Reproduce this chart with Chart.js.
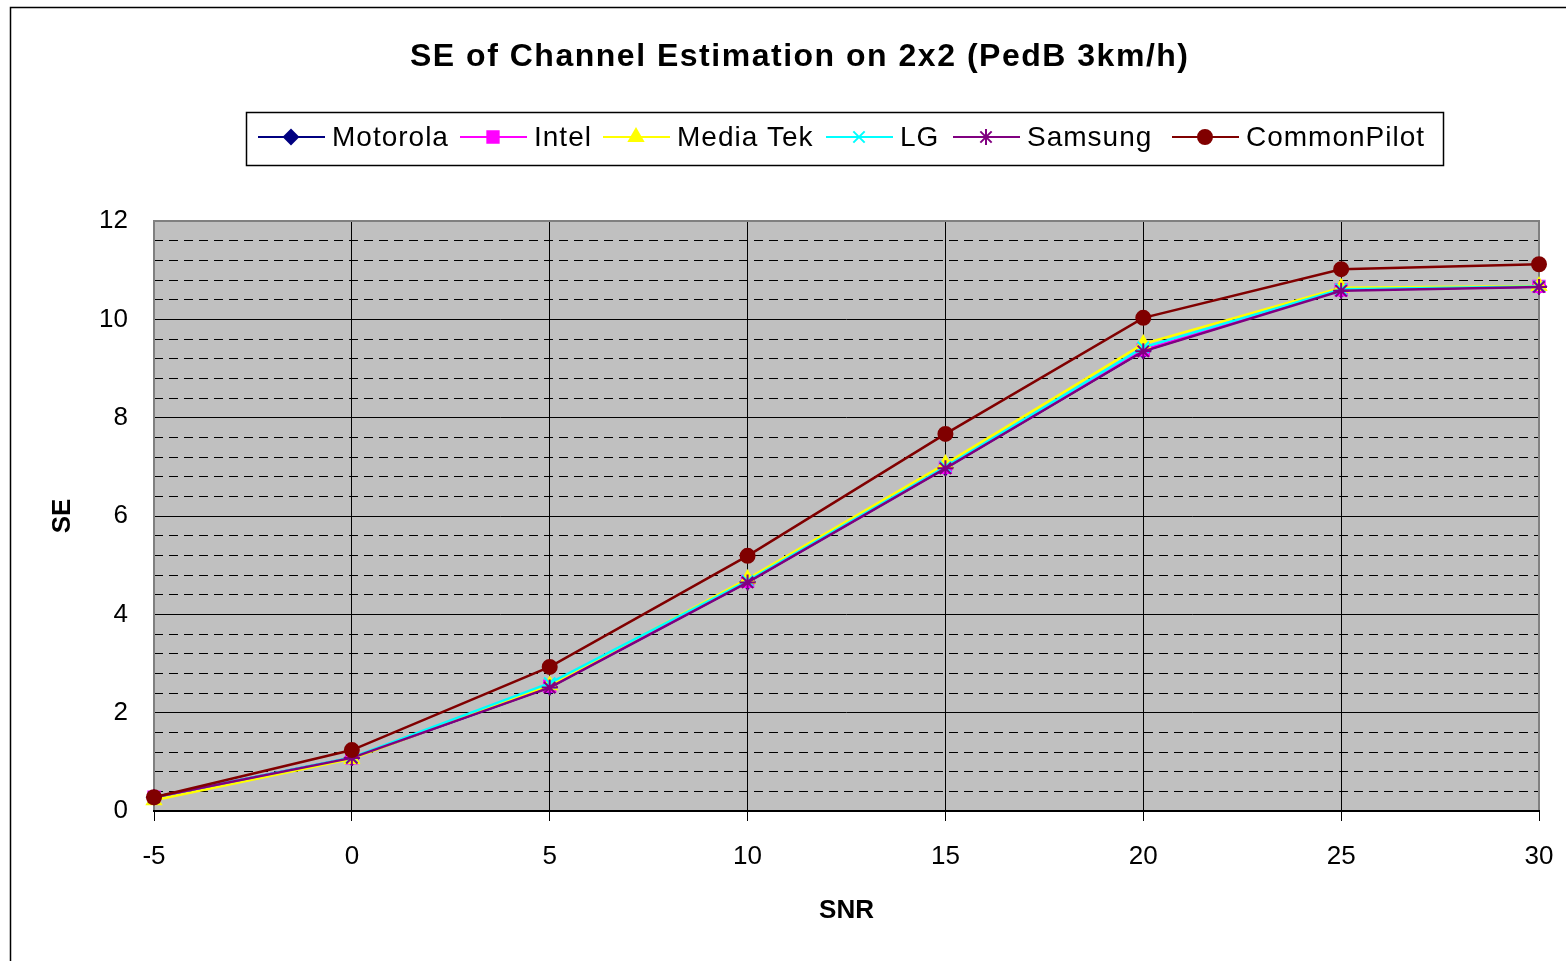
<!DOCTYPE html>
<html>
<head>
<meta charset="utf-8">
<script src="https://cdn.jsdelivr.net/npm/chart.js@4.4.0/dist/chart.umd.min.js"></script>
<style>
  html, body { margin: 0; padding: 0; background: #fff; }
  #wrap { width: 1566px; height: 961px; }
</style>
</head>
<body>
<div id="wrap"><canvas id="myChart" width="1566" height="961"></canvas></div>
<script>
// SNR points and SE values
var snr = [-5, 0, 5, 10, 15, 20, 25, 30];

var motorola    = [0.28, 1.08, 2.52, 4.66, 6.98, 9.36, 10.60, 10.67];
var intel       = [0.28, 1.08, 2.54, 4.67, 6.99, 9.38, 10.60, 10.67];
var mediaTek    = [0.22, 1.06, 2.56, 4.72, 7.06, 9.50, 10.64, 10.68];
var lg          = [0.28, 1.09, 2.60, 4.68, 7.00, 9.43, 10.61, 10.67];
var samsung     = [0.28, 1.08, 2.51, 4.65, 6.97, 9.35, 10.58, 10.66];
var commonPilot = [0.28, 1.24, 2.93, 5.19, 7.67, 10.03, 11.02, 11.12];

var yTicks = [0, 2, 4, 6, 8, 10, 12];
var titleText = 'SE of Channel Estimation on 2x2 (PedB 3km/h)';

function pts(arr) {
  return arr.map(function (v, i) { return { x: snr[i], y: v }; });
}

var series = [
  { label: 'Motorola',    data: motorola,    color: '#000080', style: 'rectRot',  radius: 7, order: 5 },
  { label: 'Intel',       data: intel,       color: '#FF00FF', style: 'rect',     radius: 8, order: 4 },
  { label: 'Media Tek',   data: mediaTek,    color: '#FFFF00', style: 'triangle', radius: 8, order: 3 },
  { label: 'LG',          data: lg,          color: '#00FFFF', style: 'crossRot', radius: 8, order: 2 },
  { label: 'Samsung',     data: samsung,     color: '#800080', style: 'star',     radius: 8, order: 1 },
  { label: 'CommonPilot', data: commonPilot, color: '#800000', style: 'circle',   radius: 7, order: 0 }
];

var datasets = series.map(function (s) {
  return {
    label: s.label,
    data: pts(s.data),
    borderColor: s.color,
    backgroundColor: s.color,
    pointBackgroundColor: s.color,
    pointBorderColor: s.color,
    pointStyle: s.style,
    pointRadius: s.radius,
    pointBorderWidth: 2,
    borderWidth: 2.5,
    tension: 0,
    fill: false,
    clip: false,
    order: s.order
  };
});

var FONT = '"Liberation Sans", Arial, sans-serif';

// page frame, plot background + border, title
var framePlugin = {
  id: 'frame',
  beforeDraw: function (chart) {
    var c = chart.ctx, a = chart.chartArea;
    c.save();
    c.fillStyle = '#fff';
    c.fillRect(0, 0, chart.width, chart.height);
    c.strokeStyle = '#000';
    c.lineWidth = 1.5;
    c.strokeRect(10.5, 7.5, 1700, 1100);
    c.fillStyle = '#C0C0C0';
    c.fillRect(a.left, a.top, a.right - a.left, a.bottom - a.top);

    // title, stretched a little like the excel one
    c.font = 'bold 32px ' + FONT;
    c.fillStyle = '#000';
    c.textBaseline = 'middle';
    c.textAlign = 'left';
    var w = c.measureText(titleText).width;
    var sp = Math.max(0, (778 - w) / (titleText.length - 1));
    c.letterSpacing = sp + 'px';
    c.fillText(titleText, 410, 57);
    c.letterSpacing = '0px';
    c.restore();
  },
  beforeDatasetsDraw: function (chart) {
    var c = chart.ctx, a = chart.chartArea;
    c.save();
    c.strokeStyle = '#808080';
    c.lineWidth = 2;
    c.beginPath();
    c.moveTo(a.left, a.bottom);
    c.lineTo(a.left, a.top);
    c.lineTo(a.right, a.top);
    c.lineTo(a.right, a.bottom);
    c.stroke();
    c.strokeStyle = '#000';
    c.beginPath();
    c.moveTo(a.left - 1, a.bottom);
    c.lineTo(a.right + 1, a.bottom);
    c.stroke();
    c.restore();
  }
};

// excel style legend: line + marker + text in a box
var legendPlugin = {
  id: 'boxLegend',
  afterDraw: function (chart) {
    var c = chart.ctx;
    var y = 137;
    var xs = [258, 460, 603, 826, 953, 1172];
    c.save();
    c.fillStyle = '#fff';
    c.fillRect(246, 112, 1197, 53);
    c.strokeStyle = '#000';
    c.lineWidth = 1.5;
    c.strokeRect(246.5, 112.5, 1197, 53);
    c.font = '28px ' + FONT;
    c.textBaseline = 'middle';
    series.forEach(function (s, i) {
      var x0 = xs[i];
      c.strokeStyle = s.color;
      c.fillStyle = s.color;
      c.lineWidth = 2;
      c.beginPath();
      c.moveTo(x0, y);
      c.lineTo(x0 + 67, y);
      c.stroke();
      Chart.helpers.drawPoint(c, { pointStyle: s.style, radius: s.radius, rotation: 0, borderWidth: 2 }, x0 + 33, y);
      c.fillStyle = '#000';
      c.letterSpacing = '1px';
      c.fillText(s.label, x0 + 74, y + 1);
      c.letterSpacing = '0px';
    });
    c.restore();
  }
};

var ctx = document.getElementById('myChart').getContext('2d');
var myChart = new Chart(ctx, {
  type: 'line',
  data: { datasets: datasets },
  plugins: [framePlugin, legendPlugin],
  options: {
    responsive: false,
    animation: false,
    layout: { padding: { left: 0, top: 221, right: 27, bottom: 0 } },
    plugins: {
      legend: { display: false },
      tooltip: { enabled: false },
      title: { display: false }
    },
    scales: {
      x: {
        type: 'linear',
        min: -5,
        max: 30,
        ticks: {
          stepSize: 5,
          color: '#000',
          padding: 20,
          font: { family: FONT, size: 26 }
        },
        grid: { color: '#000', lineWidth: 1, tickLength: 10, tickColor: '#000' },
        border: { display: false },
        title: {
          display: true,
          text: 'SNR',
          color: '#000',
          font: { family: FONT, size: 26, weight: 'bold' },
          padding: { bottom: 35 }
        },
        afterFit: function (scale) {
          scale.height = 150;
          scale.paddingLeft = 0;
          scale.paddingRight = 0;
        }
      },
      y: {
        min: 0,
        max: 12,
        afterBuildTicks: function (scale) {
          var t = [];
          for (var i = 0; i <= 30; i++) t.push({ value: +(i * 0.4).toFixed(1) });
          scale.ticks = t;
        },
        ticks: {
          autoSkip: false,
          color: '#000',
          padding: 26,
          font: { family: FONT, size: 26 },
          callback: function (v) { return yTicks.indexOf(v) >= 0 ? String(v) : ''; }
        },
        grid: {
          drawTicks: false,
          color: '#000',
          lineWidth: 1
        },
        border: {
          display: false,
          dash: function (c) {
            if (!c.tick) return [];
            return yTicks.indexOf(c.tick.value) >= 0 ? [] : [9, 6];
          }
        },
        title: {
          display: true,
          text: 'SE',
          color: '#000',
          font: { family: FONT, size: 26, weight: 'bold' },
          padding: { top: 47 }
        },
        afterFit: function (scale) {
          scale.width = 154;
          scale.paddingTop = 0;
          scale.paddingBottom = 0;
        }
      }
    }
  }
});
</script>
</body>
</html>
